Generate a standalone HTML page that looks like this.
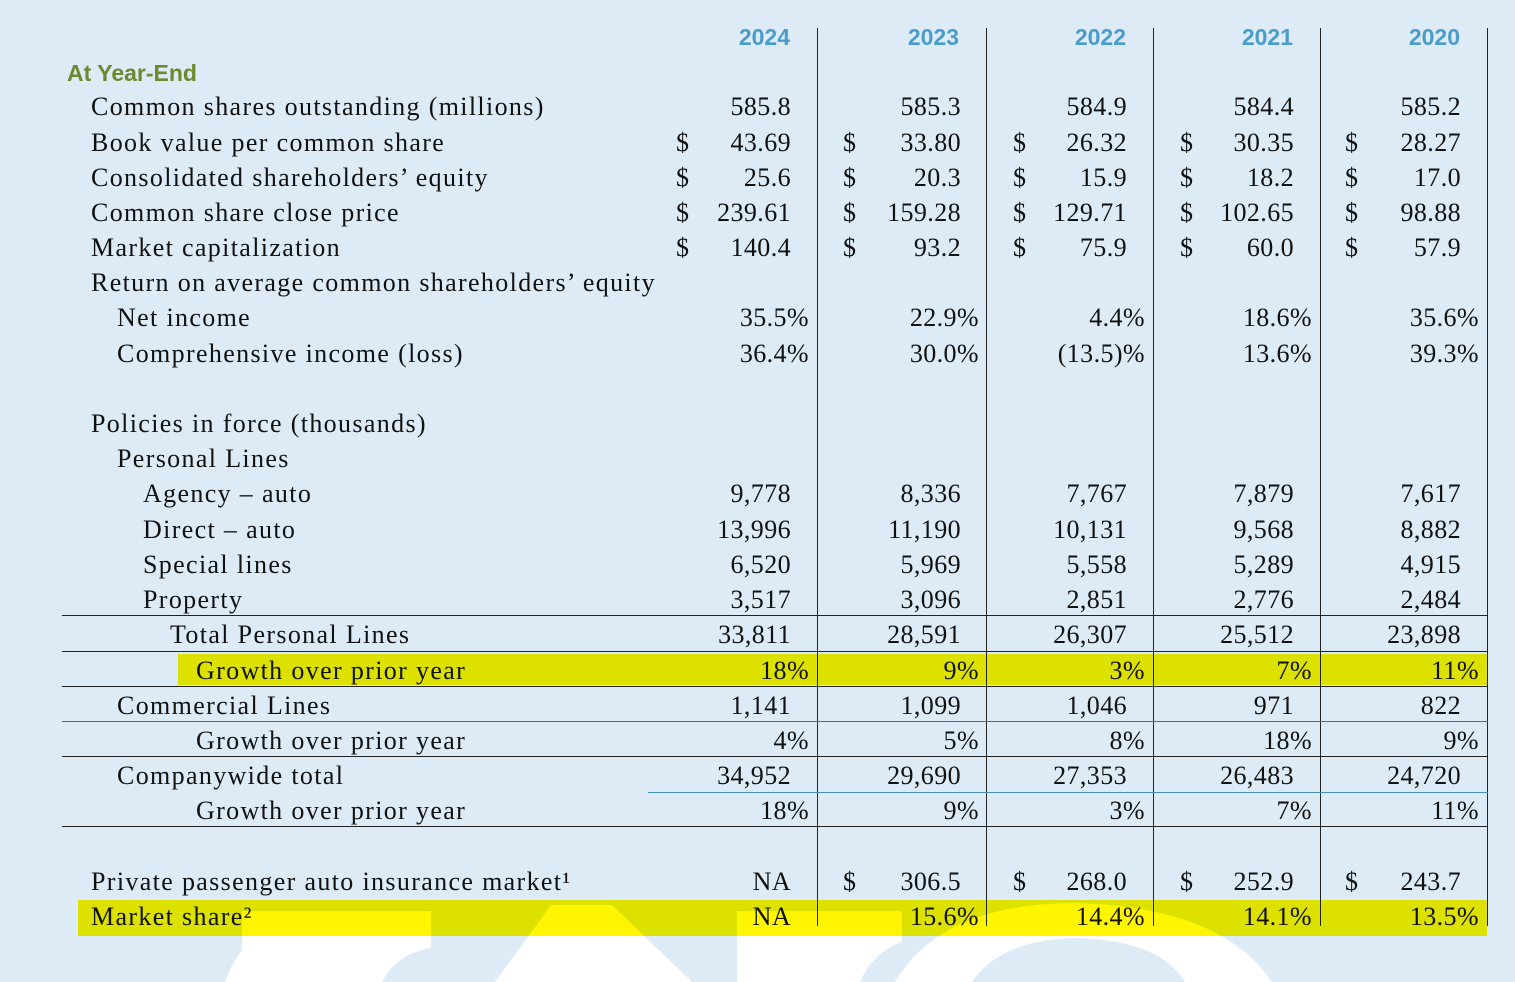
<!DOCTYPE html>
<html><head><meta charset="utf-8">
<style>
body{margin:0;width:1515px;height:982px;overflow:hidden;background:#dcebf6;position:relative;font-family:"Liberation Serif",serif;color:#111}
.t{position:absolute;font-size:26px;line-height:30px;white-space:nowrap}
.lab{letter-spacing:1.35px}
.r{text-align:right;letter-spacing:0.4px}
.yr{position:absolute;top:24px;font:bold 23px "Liberation Sans",sans-serif;color:#4a9cc9;text-align:right;width:100px}
.vl{position:absolute;top:28px;width:1px;height:898px;background:#222}
.hl{position:absolute;height:1px;background:#222}
.hi{position:absolute;background:#fff500;mix-blend-mode:multiply}
</style></head><body>
<svg style="position:absolute;left:0;top:0" width="1515" height="982">
<path d="M225 982 Q240 940 270 930 L270 982Z" fill="#fff"/>
<rect x="242" y="911" width="189" height="71" fill="#fff"/>
<path d="M382 982 Q400 945 460 945 Q530 945 551 982Z" fill="#dcebf6"/>
<path d="M551 905 L612 905 L692 982 L495 982Z" fill="#fff"/>
<rect x="737" y="911" width="165" height="71" fill="#fff"/>
<path d="M860 982 Q880 935 944 935 L944 982Z" fill="#dcebf6"/>
<path d="M895 982 Q940 905 1070 903 Q1220 905 1272 982Z" fill="#fff"/>
<path d="M972 982 Q1000 940 1075 938 Q1160 940 1185 982Z" fill="#dcebf6"/>
</svg>
<div id="root"></div>
<div class="hi" style="left:178px;top:654px;width:1309px;height:31px"></div>
<div class="hi" style="left:78px;top:900px;width:1409px;height:36px"></div>
<script>
const years=['2024','2023','2022','2021','2020'];
const colLines=[817,986,1153,1320,1487];
const numRight=[790,960,1126,1293,1460];
const dollarX=[676,843,1013,1180,1345];
const rows=[
['Common shares outstanding (millions)',91,107,['585.8','585.3','584.9','584.4','585.2'],0],
['Book value per common share',91,143,['43.69','33.80','26.32','30.35','28.27'],1],
['Consolidated shareholders’ equity',91,178,['25.6','20.3','15.9','18.2','17.0'],1],
['Common share close price',91,213,['239.61','159.28','129.71','102.65','98.88'],1],
['Market capitalization',91,248,['140.4','93.2','75.9','60.0','57.9'],1],
['Return on average common shareholders’ equity',91,283,null,0],
['Net income',117,318,['35.5%','22.9%','4.4%','18.6%','35.6%'],0],
['Comprehensive income (loss)',117,354,['36.4%','30.0%','(13.5)%','13.6%','39.3%'],0],
['Policies in force (thousands)',91,424,null,0],
['Personal Lines',117,459,null,0],
['Agency – auto',143,494,['9,778','8,336','7,767','7,879','7,617'],0],
['Direct – auto',143,530,['13,996','11,190','10,131','9,568','8,882'],0],
['Special lines',143,565,['6,520','5,969','5,558','5,289','4,915'],0],
['Property',143,600,['3,517','3,096','2,851','2,776','2,484'],0],
['Total Personal Lines',170,635,['33,811','28,591','26,307','25,512','23,898'],0],
['Growth over prior year',196,671,['18%','9%','3%','7%','11%'],0],
['Commercial Lines',117,706,['1,141','1,099','1,046','971','822'],0],
['Growth over prior year',196,741,['4%','5%','8%','18%','9%'],0],
['Companywide total',117,776,['34,952','29,690','27,353','26,483','24,720'],0],
['Growth over prior year',196,811,['18%','9%','3%','7%','11%'],0],
['Private passenger auto insurance market¹',91,882,['NA','306.5','268.0','252.9','243.7'],2],
['Market share²',91,917,['NA','15.6%','14.4%','14.1%','13.5%'],0]
];
const hlines=[[62,615,'#222'],[62,651,'#222'],[62,686,'#222'],[62,721,'#666'],[62,756,'#222'],[648,792,'#4a8fb5'],[62,826,'#222']];
const root=document.getElementById('root');
function add(cls,style,text){const d=document.createElement('div');d.className=cls;d.setAttribute('style',style);if(text!==undefined)d.textContent=text;root.appendChild(d);return d;}
const h=add('t','left:67px;top:60px;font:bold 23px "Liberation Sans",sans-serif;color:#6b8a2e','At Year-End');


years.forEach((y,i)=>{const d=add('yr','left:'+(colLines[i]-127)+'px',y);

});
colLines.forEach((x,i)=>{const d=add('vl','left:'+x+'px');

});
hlines.forEach(l=>{const d=add('hl','left:'+l[0]+'px;top:'+l[1]+'px;width:'+(1488-l[0])+'px;background:'+l[2]);

});
rows.forEach(r=>{
 const top=r[2]-15;
 const lab=add('t lab','left:'+r[1]+'px;top:'+top+'px',r[0]);
 
 
 if(!r[3])return;
 r[3].forEach((v,i)=>{
  const pct=/%$/.test(v);
  const right=numRight[i]+(pct?18:0)+1;
  const d=add('t r','left:'+(right-160)+'px;width:160px;top:'+top+'px',v);
  
  
  const dol=r[4]===1||(r[4]===2&&i>0);
  if(dol){const s=add('t','left:'+dollarX[i]+'px;top:'+top+'px','$');
  
  }
 });
});
</script>
</body></html>
